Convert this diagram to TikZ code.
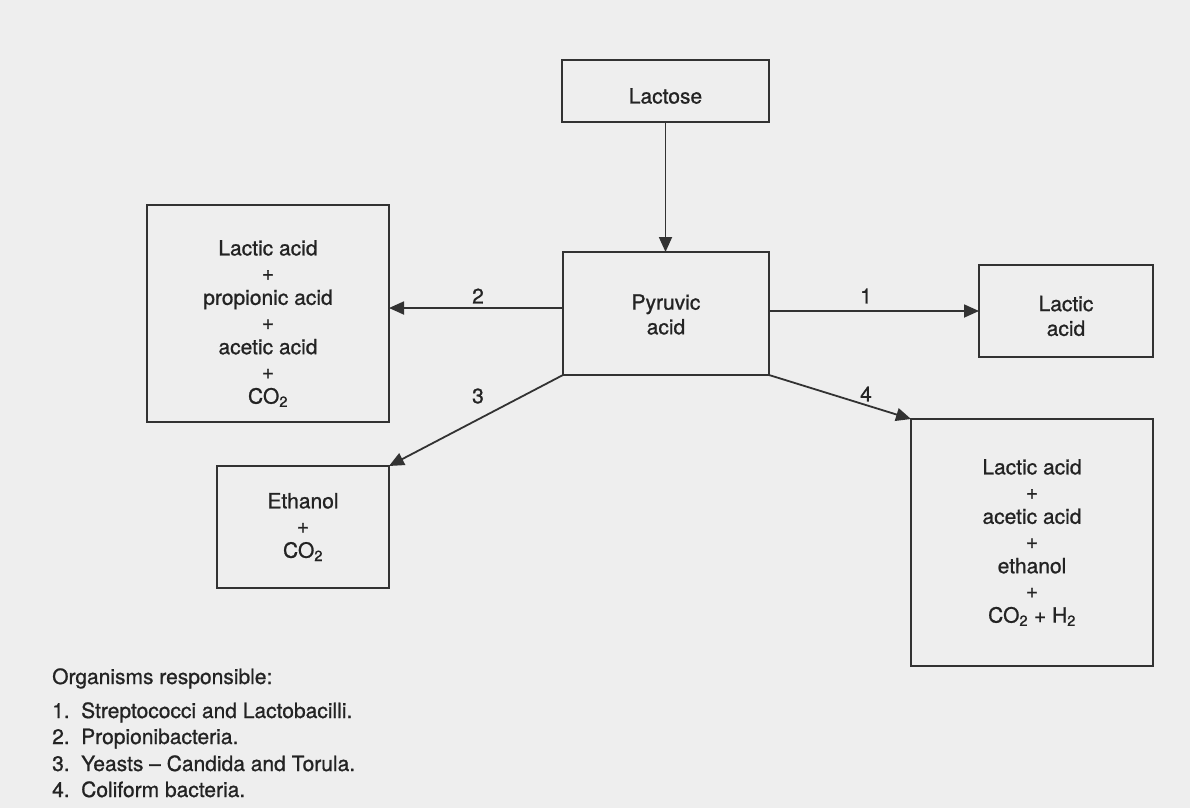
\documentclass[tikz,border=0pt]{standalone}
\usepackage{fontspec}
\setmainfont{TeX Gyre Heros}[FakeBold=0.9]
\usetikzlibrary{arrows.meta}
\definecolor{paper}{RGB}{238,238,238}
\definecolor{ink}{RGB}{50,50,50}
\definecolor{txt}{RGB}{35,35,35}
\begin{document}
\begin{tikzpicture}[x=1pt,y=-1pt,
  box/.style={draw=ink, line width=1.8pt, rectangle, inner sep=0pt, outer sep=0pt},
  lbl/.style={text=txt, align=center, inner sep=0pt, font=\fontsize{21}{24.7}\selectfont},
  num/.style={text=txt, inner sep=0pt, font=\fontsize{21}{24.7}\selectfont},
  legend/.style={text=txt, inner sep=0pt, anchor=base west, font=\fontsize{21}{26}\selectfont},
  arr/.style={draw=ink, line width=1.8pt, -{Triangle[length=15pt,width=13pt]}}]
  % paper
  \fill[paper] (0,0) rectangle (1190,808);
  \useasboundingbox (0,0) rectangle (1190,808);

  % boxes
  \node[box, minimum width=207pt, minimum height=62pt]  (lac)  at (665.5,91)   {};
  \node[box, minimum width=206pt, minimum height=123pt] (pyr)  at (666,313.5)  {};
  \node[box, minimum width=242pt, minimum height=217pt] (lft)  at (268,313.5)  {};
  \node[box, minimum width=172pt, minimum height=122pt] (eth)  at (303,527)    {};
  \node[box, minimum width=174pt, minimum height=92pt]  (lact) at (1066,311)   {};
  \node[box, minimum width=242pt, minimum height=247pt] (mix)  at (1032,542.5) {};

  % box texts
  \node[lbl] (tlac)  at ([yshift=-5pt]lac.center)   {Lactose};
  \node[lbl] (tpyr)  at ([yshift=-1pt]pyr.center)   {Pyruvic\\acid};
  \node[lbl] (tlft)  at ([yshift=-10pt]lft.center)  {Lactic acid\\+\\propionic acid\\+\\acetic acid\\+\\CO\textsubscript{2}};
  \node[lbl] (teth)  at (eth.center)                {Ethanol\\+\\CO\textsubscript{2}};
  \node[lbl] (tlact) at ([yshift=-5pt]lact.center)  {Lactic\\acid};
  \node[lbl] (tmix)  at (mix.center)                {Lactic acid\\+\\acetic acid\\+\\ethanol\\+\\CO\textsubscript{2} + H\textsubscript{2}};

  % connectors
  \draw[arr] (lac.south) -- (lac.south |- pyr.north);
  \coordinate (a2) at ([yshift=5.5pt]pyr.west);
  \draw[arr] (a2) -- (a2 -| lft.east);
  \draw[arr] (pyr.east |- lact.west) -- (lact.west);
  \draw[arr] (pyr.south west) -- (eth.north east);
  \draw[arr] (pyr.south east) -- (mix.north west);

  % pathway numbers
  \node[num] (n2) at (478,296) {2};
  \node[num] (n1) at (866,296) {1};
  \node[num] (n3) at (478,396) {3};
  \node[num] (n4) at (866,394) {4};

  % legend
  \node[legend] (lh) at (52,684) {Organisms responsible:};
  \node[legend] (l1) at (52,718) {1.};
  \node[legend] (l1t) at (81,718) {Streptococci and Lactobacilli.};
  \node[legend] (l2) at (52,744) {2.};
  \node[legend] (l2t) at (81,744) {Propionibacteria.};
  \node[legend] (l3) at (52,771) {3.};
  \node[legend] (l3t) at (81,771) {Yeasts -- Candida and Torula.};
  \node[legend] (l4) at (52,797) {4.};
  \node[legend] (l4t) at (81,797) {Coliform bacteria.};
\end{tikzpicture}
\end{document}
